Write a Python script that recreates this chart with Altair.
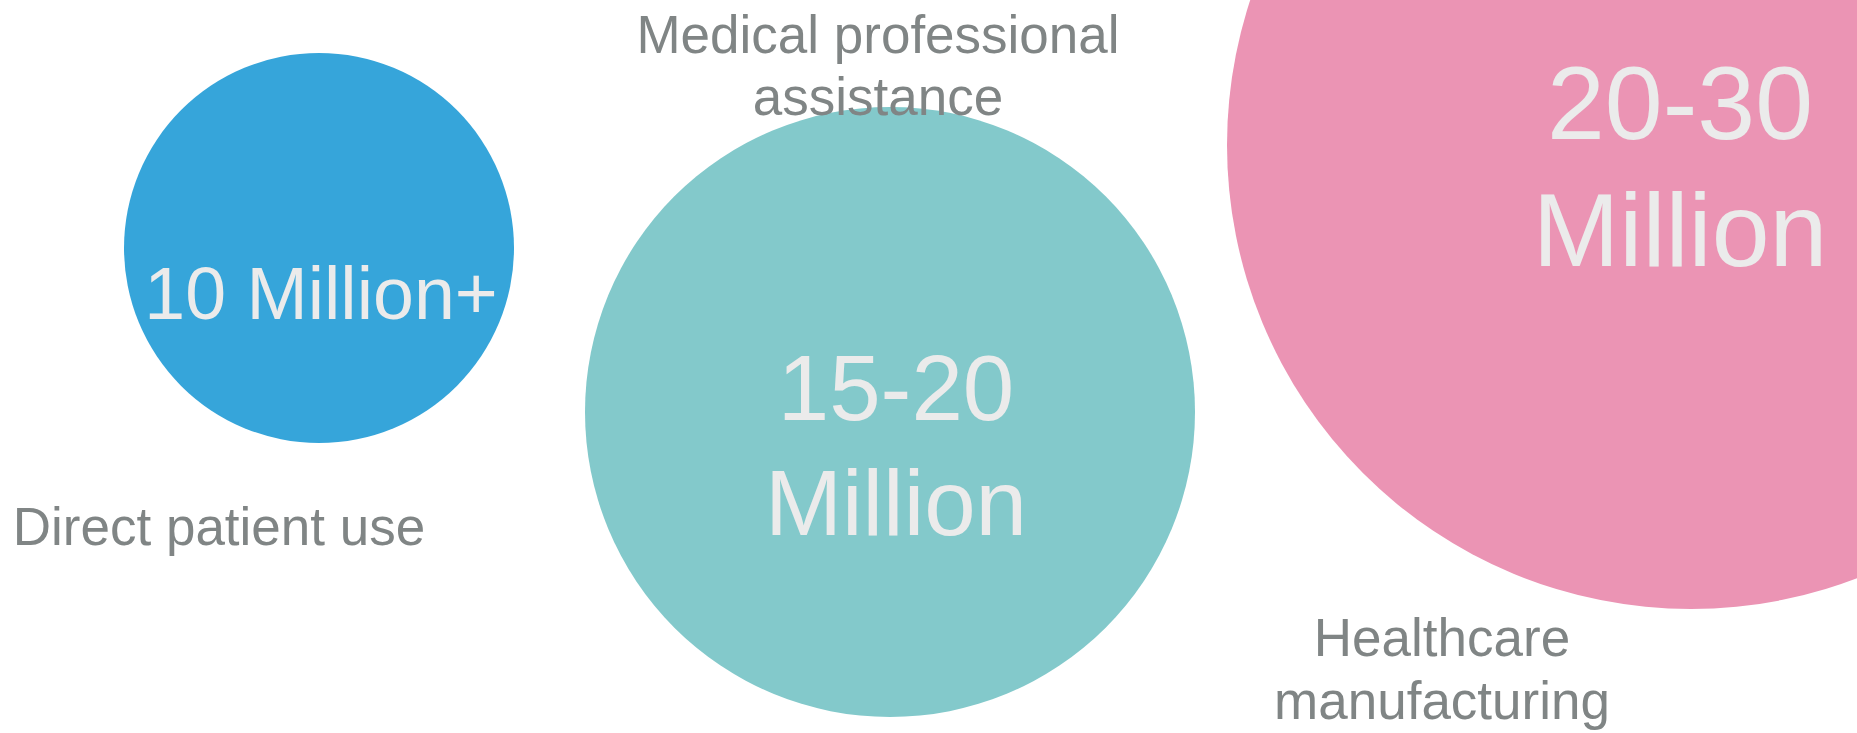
import altair as alt
import pandas as pd

# ---- data ----
categories = ["Direct patient use", "Medical professional\nassistance", "Healthcare\nmanufacturing"]
value_labels = ["10 Million+", "15-20\nMillion", "20-30\nMillion"]
bubble_radius = [195, 305, 464]
bubble_colors = ["#36A5DA", "#83C9CB", "#EB94B4"]

# ---- layout (pixel coordinates in a 1857 x 733 canvas) ----
bubble_x = [319, 890, 1691]
bubble_y = [248, 412, 145]
value_x = [321, 896, 1680]
value_y = [319, 420, 139]
value_font = [73.5, 92.5, 104]
value_line = [90, 115, 127]
cat_x = [219, 878, 1442]
cat_y = [545, 53, 656]
cat_line = [62, 62, 63]

W, H = 1857, 733
FONT = "Liberation Sans"
xs = alt.Scale(domain=[0, W], nice=False, zero=False)
ys = alt.Scale(domain=[H, 0], nice=False, zero=False)

bubbles = pd.DataFrame({
    "cat": categories,
    "x": bubble_x,
    "y": bubble_y,
    "size": [(2 * r) ** 2 for r in bubble_radius],
    "color": bubble_colors,
})

circles = alt.Chart(bubbles).mark_circle(opacity=1).encode(
    x=alt.X("x:Q", scale=xs, axis=None),
    y=alt.Y("y:Q", scale=ys, axis=None),
    size=alt.Size("size:Q", scale=None, legend=None),
    color=alt.Color("color:N", scale=None, legend=None),
)

layers = [circles]
for i in range(3):
    d = pd.DataFrame({"x": [value_x[i]], "y": [value_y[i]], "t": [value_labels[i]]})
    layers.append(
        alt.Chart(d).mark_text(
            font=FONT, fontSize=value_font[i], lineHeight=value_line[i], lineBreak="\n",
            align="center", baseline="alphabetic", color="#EBEBEB",
        ).encode(
            x=alt.X("x:Q", scale=xs, axis=None),
            y=alt.Y("y:Q", scale=ys, axis=None),
            text="t:N",
        )
    )
    d2 = pd.DataFrame({"x": [cat_x[i]], "y": [cat_y[i]], "t": [categories[i]]})
    layers.append(
        alt.Chart(d2).mark_text(
            font=FONT, fontSize=53, lineHeight=cat_line[i], lineBreak="\n",
            align="center", baseline="alphabetic", color="#808585",
        ).encode(
            x=alt.X("x:Q", scale=xs, axis=None),
            y=alt.Y("y:Q", scale=ys, axis=None),
            text="t:N",
        )
    )

chart = alt.layer(*layers).properties(
    width=W, height=H,
    autosize=alt.AutoSizeParams(type="none"),
    padding=0,
    background="white",
).configure_view(stroke=None)

chart.save("out.html", embed_options={"renderer": "svg", "actions": False})
